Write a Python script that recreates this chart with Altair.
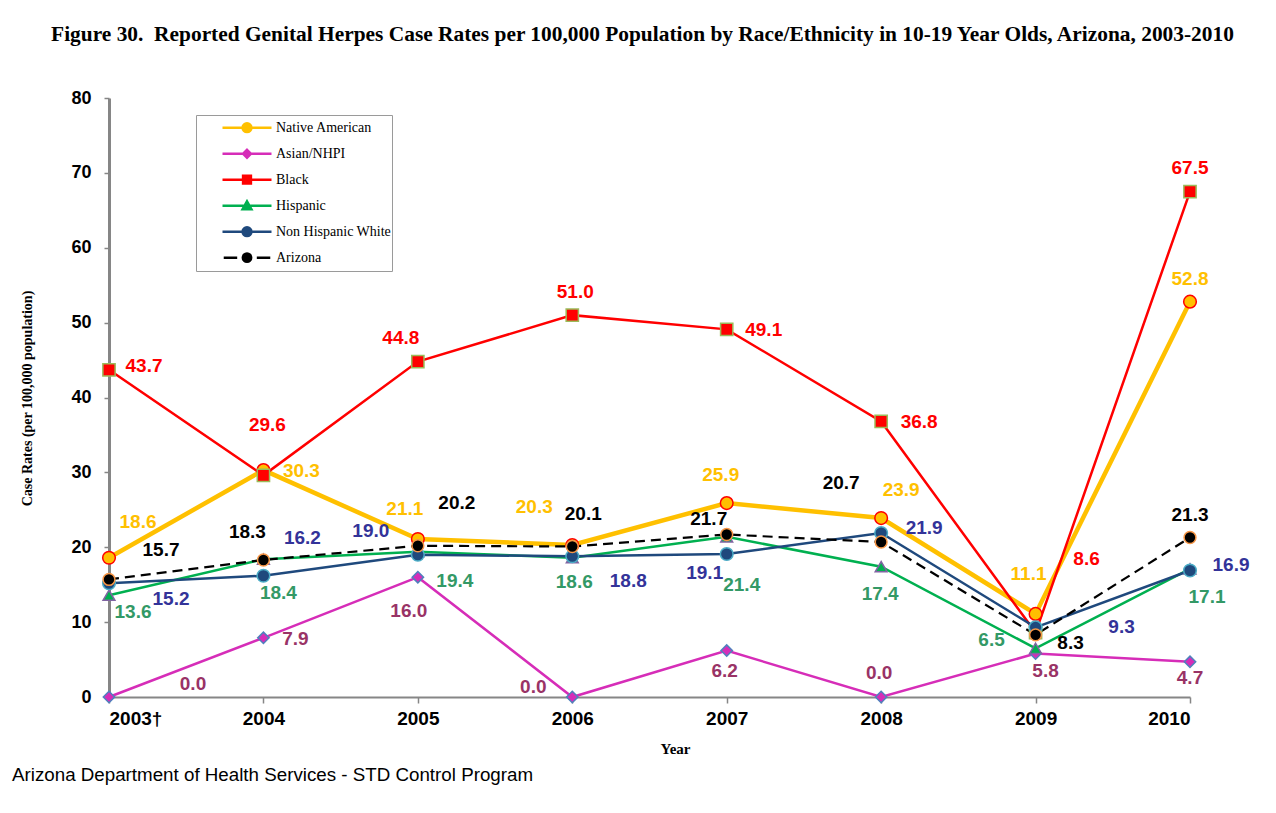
import json
import altair as alt
import pandas as pd

# ---------------- data ----------------
YEARS = [2003, 2004, 2005, 2006, 2007, 2008, 2009, 2010]
YEAR_LABELS = ["2003†", "2004", "2005", "2006", "2007", "2008", "2009", "2010"]
SERIES = ["Native American", "Asian/NHPI", "Black", "Hispanic", "Non Hispanic White", "Arizona"]

native_american = [18.6, 30.3, 21.1, 20.3, 25.9, 23.9, 11.1, 52.8]
asian_nhpi = [0.0, 7.9, 16.0, 0.0, 6.2, 0.0, 5.8, 4.7]
black = [43.7, 29.6, 44.8, 51.0, 49.1, 36.8, 8.6, 67.5]
hispanic = [13.6, 18.4, 19.4, 18.6, 21.4, 17.4, 6.5, 17.1]
non_hispanic_white = [15.2, 16.2, 19.0, 18.8, 19.1, 21.9, 9.3, 16.9]
arizona = [15.7, 18.3, 20.2, 20.1, 21.7, 20.7, 8.3, 21.3]
VALUES = [native_american, asian_nhpi, black, hispanic, non_hispanic_white, arizona]

TITLE = ("Figure 30.\u00a0 Reported Genital Herpes Case Rates per 100,000 Population by "
         "Race/Ethnicity in 10-19 Year Olds, Arizona, 2003-2010")
Y_TITLE = "Case Rates (per 100,000 population)"
X_TITLE = "Year"
FOOTER = "Arizona Department of Health Services - STD Control Program"

# ---------------- styles ----------------
LINE_COLORS = ["#FFC000", "#D62DB8", "#FF0000", "#00B050", "#1F497D", "#000000"]
LINE_WIDTHS = [4.5, 2.5, 2.5, 2.5, 2.5, 2.2]
MARKER_SHAPES = ["circle", "diamond", "square", "triangle-up", "circle", "circle"]
MARKER_FILLS = ["#FFC000", "#D62DB8", "#FF0000", "#00B050", "#1F497D", "#000000"]
MARKER_STROKES = ["#FF0000", "#4F81BD", "#9BBB59", "#8064A2", "#4BACC6", "#F79646"]
MARKER_SIZES = [160, 130, 150, 140, 160, 140]
LABEL_COLORS = ["#FFC000", "#993366", "#FF0000", "#339966", "#333399", "#000000"]

# label offsets in pixels from each point (dx, dy)
LABEL_DX = [
    [29, 38, -13, -38, -6, 20, -7, 0],
    [84, 32, -9, -39, -2, -2, 10, 0],
    [35, 4, -17, 3, 37, 38, 51, 0],
    [24, 15, 37, 2, 15, -1, -44, 17],
    [62, 39, -47, 56, -22, 43, 86, 41],
    [52, -16, 39, 11, -18, -40, 35, 0],
]
LABEL_DY = [
    [-36, 1, -30, -38, -28, -28, -40, -23],
    [-13, 1, 34, -10, 20, -24, 17, 16],
    [-4, -50, -24, -23, 1, 1, -74, -24],
    [17, 34, 29, 24, 48, 27, -8, 28],
    [16, -38, -24, 25, 19, -5, 0, -5],
    [-29, -28, -43, -33, -16, -59, 8, -23],
]

LEGEND_PATHS = [
    "M-1,0H1M0.18,0A0.18,0.18,0,1,1,-0.18,0A0.18,0.18,0,1,1,0.18,0Z",
    "M-1,0H1M0,-0.16L0.16,0L0,0.16L-0.16,0Z",
    "M-1,0H1M-0.16,-0.16H0.16V0.16H-0.16Z",
    "M-1,0H1M0,-0.18L0.18,0.14H-0.18Z",
    "M-1,0H1M0.18,0A0.18,0.18,0,1,1,-0.18,0A0.18,0.18,0,1,1,0.18,0Z",
    "M-0.95,0H-0.4M0.4,0H0.95M0.17,0A0.17,0.17,0,1,1,-0.17,0A0.17,0.17,0,1,1,0.17,0Z",
]

rows = []
for i, s in enumerate(SERIES):
    for j, yr in enumerate(YEARS):
        rows.append(dict(
            series=s, year=yr, value=VALUES[i][j],
            lcolor=LINE_COLORS[i], lwidth=LINE_WIDTHS[i],
            mshape=MARKER_SHAPES[i], mfill=MARKER_FILLS[i], mstroke=MARKER_STROKES[i],
            msize=MARKER_SIZES[i], tcolor=LABEL_COLORS[i],
            dx=LABEL_DX[i][j], dy=LABEL_DY[i][j],
        ))
df = pd.DataFrame(rows)

W, H = 1081, 599
X_MIN, X_MAX, Y_MIN, Y_MAX = 2003, 2010, 0, 80
AXIS_GRAY = "#868686"
label_expr = json.dumps(YEAR_LABELS, ensure_ascii=False) + "[datum.value - 2003]"

x_axis = alt.X(
    "year:Q",
    scale=alt.Scale(domain=[X_MIN, X_MAX], nice=False, zero=False),
    axis=alt.Axis(
        values=YEARS, labelExpr=label_expr, grid=False,
        domainColor=AXIS_GRAY, domainWidth=2, tickColor=AXIS_GRAY, tickWidth=1.5, tickSize=6,
        labelFont="Liberation Sans", labelFontWeight="bold", labelFontSize=19, labelColor="black",
        labelPadding=6,
        title=X_TITLE, titleFont="Liberation Serif", titleFontWeight="bold", titleFontSize=15,
        titleColor="black", titleX=566, titleY=51, titleBaseline="middle", titleAlign="center",
    ),
)
y_axis = alt.Y(
    "value:Q",
    scale=alt.Scale(domain=[Y_MIN, Y_MAX], nice=False),
    axis=alt.Axis(
        values=list(range(0, 81, 10)), grid=False,
        domainColor=AXIS_GRAY, domainWidth=3, tickColor=AXIS_GRAY, tickWidth=1.5, tickSize=5,
        labelFont="Liberation Sans", labelFontWeight="bold", labelFontSize=18, labelColor="black",
        labelPadding=13,
        title=Y_TITLE, titleFont="Liberation Serif", titleFontWeight="bold", titleFontSize=14,
        titleColor="black", titleX=-82, titleY=300, titleBaseline="middle", titleAlign="center",
        titleAngle=270,
    ),
)
x = alt.X("year:Q")
y = alt.Y("value:Q")

base = alt.Chart(df)

solid_lines = base.transform_filter("datum.series != 'Arizona'").mark_line().encode(
    x=x_axis, y=y_axis,
    color=alt.Color("lcolor:N", scale=None),
    strokeWidth=alt.StrokeWidth("lwidth:Q", scale=None),
    detail="series:N",
    order="year:Q",
)
az_line = base.transform_filter("datum.series == 'Arizona'").mark_line(
    color="#000000", strokeWidth=2.2, strokeDash=[10, 6]
).encode(x=x, y=y, order="year:Q")

points = base.mark_point(opacity=1, strokeWidth=1.5).encode(
    x=x, y=y,
    fill=alt.Fill("mfill:N", scale=None),
    stroke=alt.Stroke("mstroke:N", scale=None),
    shape=alt.Shape("mshape:N", scale=None),
    size=alt.Size("msize:Q", scale=None),
)

# pixel offsets of the labels converted through the plot's scale factors
labels = base.transform_calculate(
    lx=f"datum.year + datum.dx * {(X_MAX - X_MIN)} / {W}",
    ly=f"datum.value - datum.dy * {(Y_MAX - Y_MIN)} / {H}",
).mark_text(
    font="Liberation Sans", fontWeight="bold", fontSize=19, baseline="middle", align="center"
).encode(
    x=alt.X("lx:Q"), y=alt.Y("ly:Q"),
    text=alt.Text("value:Q", format=".1f"),
    color=alt.Color("tcolor:N", scale=None),
)

legend_cfg = alt.Legend(
    title=None, orient="none", legendX=87, legendY=17, padding=0,
    clipHeight=25.4, rowPadding=0, symbolSize=2401, symbolStrokeWidth=2.5,
    symbolOffset=25, labelOffset=3, labelFont="Liberation Serif", labelFontSize=14,
    labelColor="black", strokeColor="#9a9a9a", fillColor="white", direction="vertical",
)
legend_layer = base.transform_filter("false").mark_point(opacity=1).encode(
    x=x, y=y,
    fill=alt.Fill("series:N", scale=alt.Scale(domain=SERIES, range=MARKER_FILLS), legend=legend_cfg),
    stroke=alt.Stroke("series:N", scale=alt.Scale(domain=SERIES, range=LINE_COLORS), legend=legend_cfg),
    shape=alt.Shape("series:N", scale=alt.Scale(domain=SERIES, range=LEGEND_PATHS), legend=legend_cfg),
)

footer = alt.Chart(pd.DataFrame({"t": [FOOTER]})).mark_text(
    align="left", baseline="middle", font="Liberation Sans", fontSize=18.75, color="black"
).encode(x=alt.value(-97), y=alt.value(677), text="t:N")

chart = alt.layer(solid_lines, az_line, points, labels, legend_layer, footer).properties(
    width=W, height=H,
    title=alt.TitleParams(
        text=TITLE, font="Liberation Serif", fontSize=21.4, fontWeight="bold", color="black",
        anchor="middle", dx=-7, offset=44,
    ),
    autosize=alt.AutoSizeParams(type="none"),
    padding={"left": 101, "top": 90, "right": 60, "bottom": 100},
).configure_view(stroke=None)

chart.save("out.html", embed_options={"renderer": "svg", "actions": False})
